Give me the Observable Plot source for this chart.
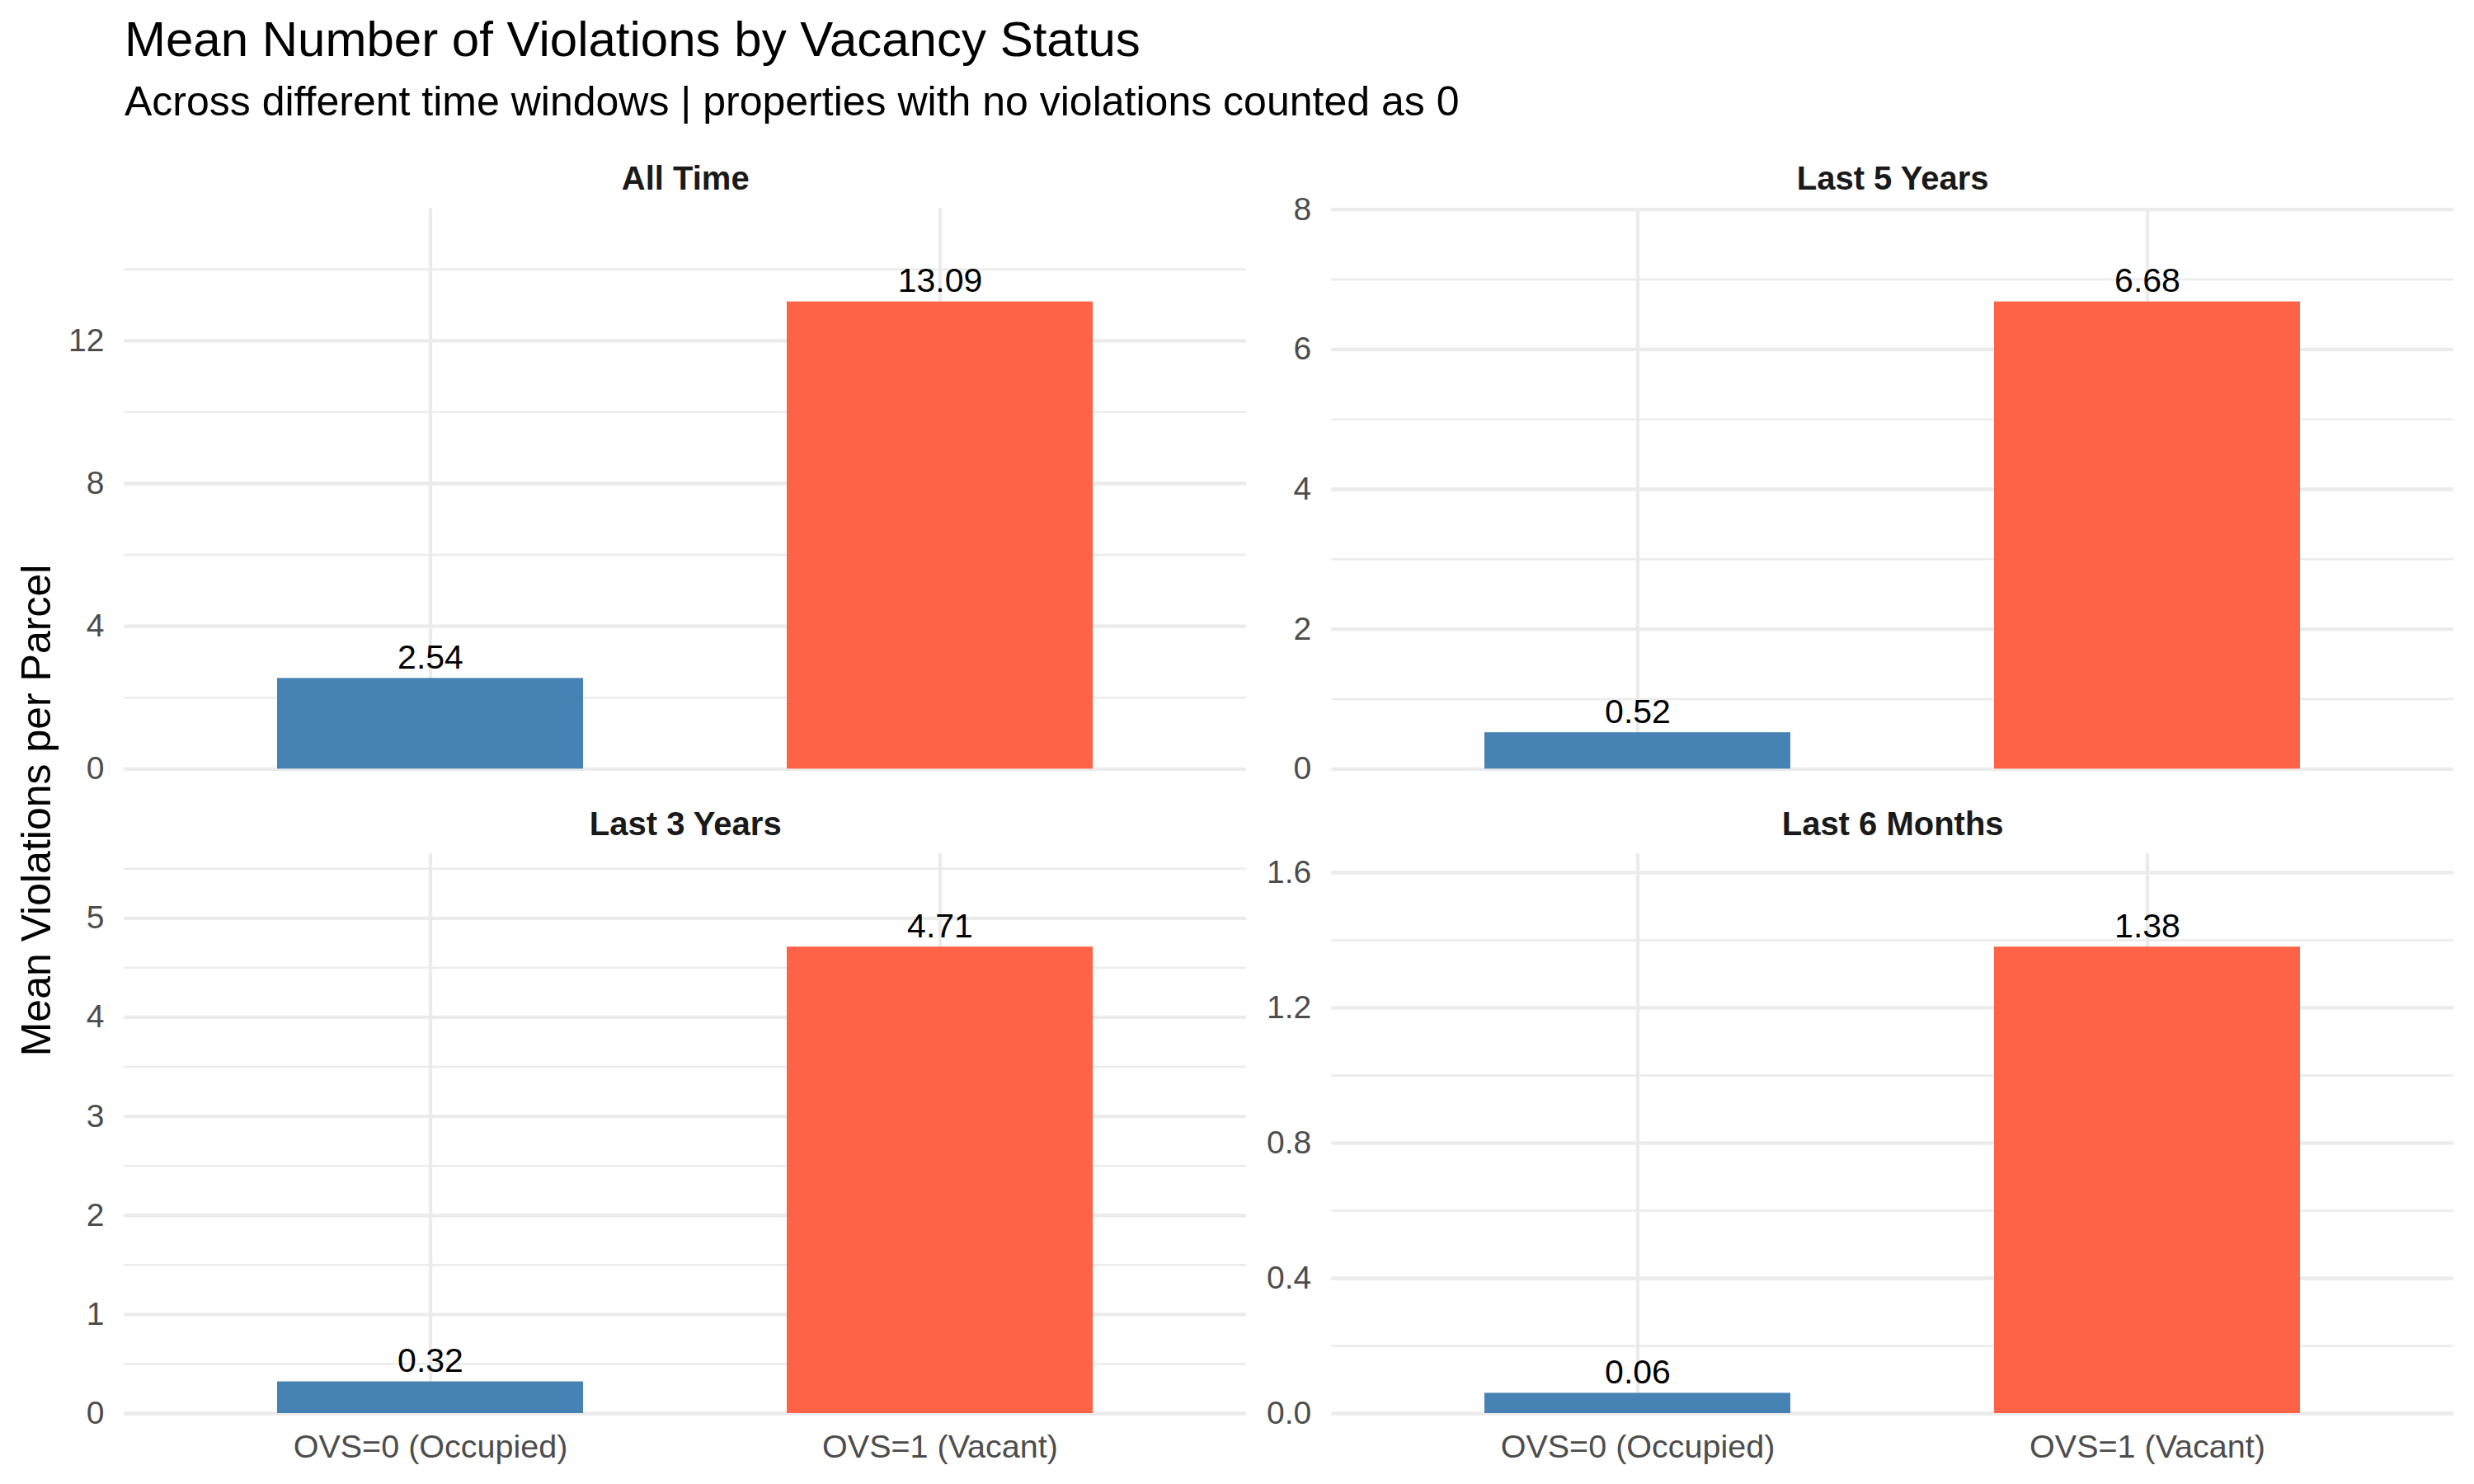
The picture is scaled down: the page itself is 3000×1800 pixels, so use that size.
<!DOCTYPE html>
<html>
<head>
<meta charset="utf-8">
<script src="https://cdn.jsdelivr.net/npm/d3@7"></script>
<script src="https://cdn.jsdelivr.net/npm/@observablehq/plot@0.6"></script>
<style>
  body { margin: 0; background: white; }
  #chart { position: relative; width: 3000px; height: 1800px; background: white; font-family: "Liberation Sans", Arial, sans-serif; }
  .hdr { position: absolute; left: 151px; white-space: nowrap; color: #000; line-height: 1; }
  #chart svg { position: absolute; max-width: none; background: transparent; }
</style>
</head>
<body>
<div id="chart">
  <div class="hdr" id="title" style="font-size:60px; top:18px;">Mean Number of Violations by Vacancy Status</div>
  <div class="hdr" id="subtitle" style="font-size:50px; top:97.5px;">Across different time windows | properties with no violations counted as 0</div>
</div>
<script>
// Facet panels (time windows) and bar categories
const windows = ["All Time", "Last 5 Years", "Last 3 Years", "Last 6 Months"];
const statuses = ["OVS=0 (Occupied)", "OVS=1 (Vacant)"];
const statusColors = ["#4682B4", "#FF6347"];

// Mean violations per parcel, one value per window
const occupiedMeans = [2.54, 0.52, 0.32, 0.06];
const vacantMeans = [13.09, 6.68, 4.71, 1.38];

// Y-axis tick labels for each panel and their decimal places
const yTicks = [
  [0, 4, 8, 12],
  [0, 2, 4, 6, 8],
  [0, 1, 2, 3, 4, 5],
  [0, 0.4, 0.8, 1.2, 1.6]
];
const yTickDecimals = [0, 0, 0, 1];

const yTitle = "Mean Violations per Parcel";

const chart = document.getElementById("chart");
const font = "Liberation Sans, Arial, sans-serif";
const grid = "#EBEBEB";

// Frame geometry of the 2x2 facet grid
const colFrames = [[150.5, 1511], [1614.3, 2975]];
const rowFrames = [[252.3, 932.3], [1035, 1714]];
const colSvg = [[40, 1560], [1560, 3000]];
const rowSvg = [[160, 960], [960, 1800]];

windows.forEach((win, i) => {
  const col = i % 2, row = Math.floor(i / 2);
  const rows = statuses.map((s, k) => ({status: s, value: [occupiedMeans, vacantMeans][k][i]}));
  const maxV = d3.max(rows, d => d.value);
  const top = maxV * 1.2;
  const major = yTicks[i];
  const step = major[1] - major[0];
  const minor = major.map(t => t + step / 2).filter(t => t <= top);
  const dec = yTickDecimals[i];

  const [sx0, sx1] = colSvg[col], [sy0, sy1] = rowSvg[row];
  const [fx0, fx1] = colFrames[col], [fy0, fy1] = rowFrames[row];

  const marks = [
    Plot.ruleY(minor, {stroke: grid, strokeWidth: 2.4}),
    Plot.ruleY(major, {stroke: grid, strokeWidth: 4.3}),
    Plot.ruleX(statuses, {x: d => d, stroke: grid, strokeWidth: 4.3}),
    Plot.barY(rows, {x: "status", y: "value", fill: "status"}),
    Plot.text(rows, {x: "status", y: "value", text: d => d.value.toFixed(2), dy: -12, lineAnchor: "bottom", fontSize: 41, fill: "#000"}),
    Plot.axisY(major, {tickSize: 0, tickPadding: 24.5, fontSize: 39, fill: "#4D4D4D", label: null, tickFormat: d => d.toFixed(dec)}),
    Plot.text([win], {frameAnchor: "top", dy: -23, lineAnchor: "bottom", fontSize: 40, fontWeight: "bold", fill: "#1A1A1A"})
  ];
  if (row === 1) {
    marks.push(Plot.axisX({tickSize: 0, tickPadding: 25, fontSize: 39.5, fill: "#4D4D4D", label: null}));
  }

  const svg = Plot.plot({
    width: sx1 - sx0,
    height: sy1 - sy0,
    marginLeft: fx0 - sx0,
    marginRight: sx1 - fx1,
    marginTop: fy0 - sy0,
    marginBottom: sy1 - fy1,
    style: {fontFamily: font, fontSize: "39px", background: "transparent", overflow: "visible"},
    x: {type: "band", domain: statuses, paddingInner: 0.4, paddingOuter: 0.3, axis: null},
    y: {domain: [0, top], axis: null},
    color: {domain: statuses, range: statusColors},
    marks
  });
  svg.style.left = sx0 + "px";
  svg.style.top = sy0 + "px";
  chart.appendChild(svg);
});

// Shared y-axis title, rotated along the left edge
const ySvg = d3.create("svg")
  .attr("width", 100).attr("height", 1800)
  .style("left", "0px").style("top", "0px");
ySvg.append("text")
  .attr("transform", "translate(61,983) rotate(-90)")
  .attr("text-anchor", "middle")
  .attr("font-family", font)
  .attr("font-size", 50)
  .attr("fill", "#000")
  .text(yTitle);
chart.appendChild(ySvg.node());
</script>
</body>
</html>
